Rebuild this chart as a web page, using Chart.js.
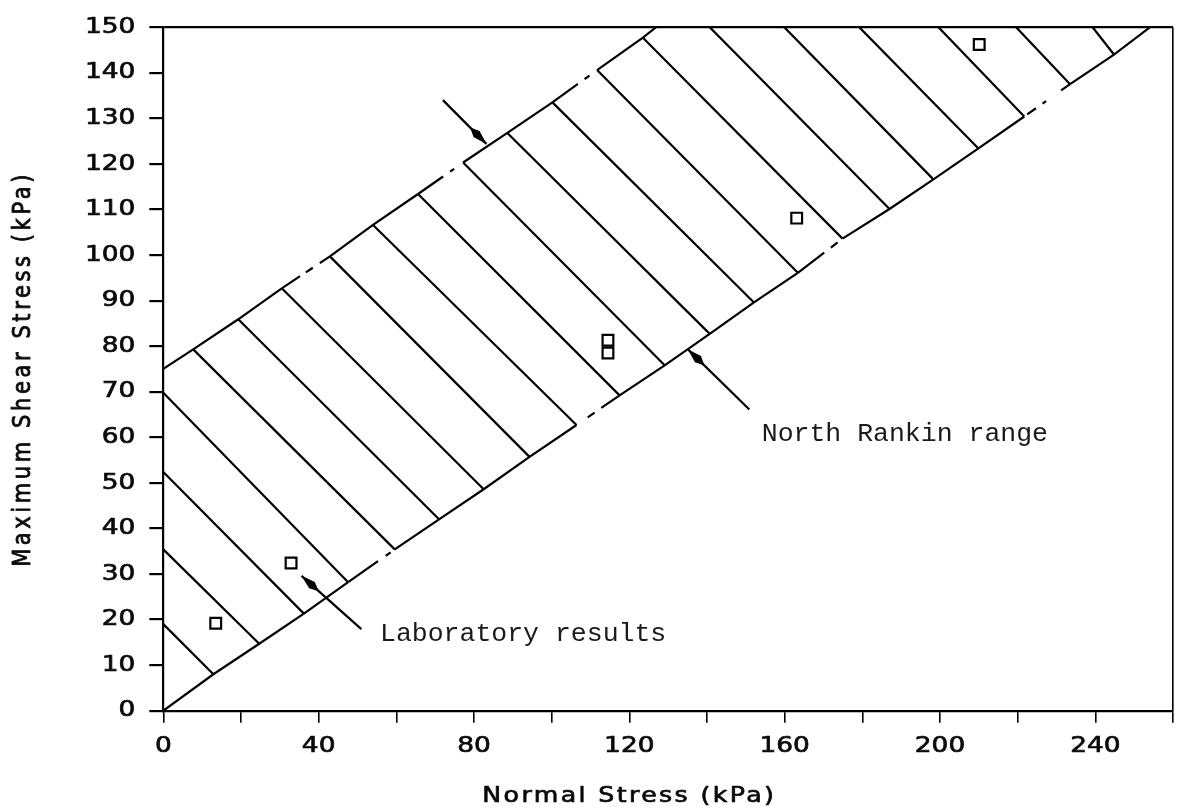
<!DOCTYPE html>
<html>
<head>
<meta charset="utf-8">
<title>Maximum shear stress vs normal stress</title>
<script src="https://cdn.jsdelivr.net/npm/chart.js@4.4.1/dist/chart.umd.min.js"></script>
<style>
  html, body { margin: 0; padding: 0; background: #ffffff; }
  #chart { display: block; }
</style>
</head>
<body>
<canvas id="chart" width="1183" height="811"></canvas>
<script>
// ---- data (kPa) ----------------------------------------------------------
// Hatch lines across the North Rankin band: lower end on the lower bound,
// upper end on the upper bound, the y axis or the top of the frame.
const hatchLowX = [12.9, 24.7, 36.2, 47.6, 59.6, 71.0, 82.5, 94.3, 106.4, 117.5, 129.1,
                   140.7, 152.1, 163.4, 174.9, 187.0, 198.3, 209.9, 221.7, 233.5, 244.8];
const hatchLowY = [8.0, 14.7, 21.3, 28.2, 35.4, 42.0, 48.6, 55.7, 62.7, 69.2, 75.8,
                   82.7, 89.6, 96.1, 103.6, 110.1, 116.6, 123.4, 130.4, 137.5, 144.0];
const hatchTopX = [0, 0, 0, 0, 7.7, 19.3, 30.5, 42.9, 54.0, 65.6, 77.2,
                   88.6, 100.2, 111.7, 123.5, 140.7, 159.9, 179.2, 199.6, 219.6, 239.3];
const hatchTopY = [19.0, 35.4, 52.4, 69.8, 79.3, 85.9, 92.7, 99.7, 106.6, 113.4, 120.3,
                   126.8, 133.5, 140.6, 147.7, 150, 150, 150, 150, 150, 150];

// Outer ends of the two band boundaries
const upperEdgeX = [0, 126.9];
const upperEdgeY = [75, 150];
const lowerEdgeX = [0, 254.1];
const lowerEdgeY = [0, 150];

// Laboratory results
const labX = [13.5, 32.9, 114.5, 114.5, 163.1, 210.1];
const labY = [19.2, 32.4, 81.3, 78.5, 108.1, 146.2];

// Annotation arrows (tail -> tip) and notes
const arrowTailX = [72.0, 150.9, 51.0];
const arrowTailY = [134.0, 66.1, 17.9];
const arrowTipX = [83.2, 135.1, 35.6];
const arrowTipY = [124.4, 79.3, 29.6];
const noteText = ['North Rankin range', 'Laboratory results'];
const noteX = [154.1, 55.8];
const noteY = [59.1, 15.3];

// Axis ticks
const xTickLabels = [0, 40, 80, 120, 160, 200, 240];
const xTitle = 'Normal Stress (kPa)';
const yTitle = 'Maximum Shear Stress (kPa)';

// ---- styling -------------------------------------------------------------
// Broken (dash-dot) stretches of the boundary lines, per segment index:
// alternating dash / gap lengths as fractions of the segment length.
const upperBreaks = { 3: [0.38, 0.12, 0.145, 0.145], 6: [0.556, 0.155, 0.09, 0.2], 9: [0.57, 0.15, 0.11, 0.17] };
const lowerBreaks = { 4: [0.64, 0.165, 0.107, 0.085], 9: [0, 0.26, 0.16, 0.155],
                      14: [0.59, 0.15, 0.15, 0.11], 19: [0, 0.065, 0.19, 0.145, 0.075, 0.33] };

function breakDash(breaks) {
  return (ctx) => {
    const b = breaks[ctx.p0DataIndex];
    if (!b) return undefined;
    const len = Math.hypot(ctx.p1.x - ctx.p0.x, ctx.p1.y - ctx.p0.y);
    return b.map(f => f * len).concat([len * 2]);
  };
}

const STRETCH = 1.2;       // wide lettering of the axis text
const INK = '#0a0a0a';
const AXIS_FONT = '"DejaVu Sans", sans-serif';
const LINE_W = 2.2;

// ---- datasets --------------------------------------------------------------
const hatchData = [];
hatchLowX.forEach((hx, i) => {
  hatchData.push({ x: hx, y: hatchLowY[i] }, { x: hatchTopX[i], y: hatchTopY[i] }, { x: null, y: null });
});

const upperData = [{ x: upperEdgeX[0], y: upperEdgeY[0] }];
hatchTopX.forEach((hx, i) => {
  if (hx > 0 && hatchTopY[i] < 150) upperData.push({ x: hx, y: hatchTopY[i] });
});
upperData.push({ x: upperEdgeX[1], y: upperEdgeY[1] });

const lowerData = [{ x: lowerEdgeX[0], y: lowerEdgeY[0] }]
  .concat(hatchLowX.map((hx, i) => ({ x: hx, y: hatchLowY[i] })))
  .concat([{ x: lowerEdgeX[1], y: lowerEdgeY[1] }]);

const labData = labX.map((v, i) => ({ x: v, y: labY[i] }));

// ---- plugins ---------------------------------------------------------------
// Widened, slightly heavier lettering for text drawn by the axes.
function wideFill(ctx, plain, text) {
  ctx.scale(STRETCH, 1);
  plain.call(ctx, text, 0, 0);
  ctx.lineWidth = 0.7;
  ctx.strokeStyle = ctx.fillStyle;
  ctx.lineJoin = 'round';
  ctx.strokeText(text, 0, 0);
}

const wideTicks = {
  id: 'wideTicks',
  beforeDraw(chart) {
    const ctx = chart.ctx;
    if (!ctx.__plainFill) {
      const plain = ctx.fillText;
      ctx.__plainFill = plain;
      ctx.fillText = function (text, x, y, maxWidth) {
        if (!this.__wide) {
          return maxWidth === undefined ? plain.call(this, text, x, y) : plain.call(this, text, x, y, maxWidth);
        }
        this.save();
        this.translate(x, y);
        wideFill(this, plain, text);
        this.restore();
      };
    }
    ctx.__wide = true;
  },
  beforeDatasetsDraw(chart) { chart.ctx.__wide = false; }
};

function drawArrow(ctx, x0, y0, x1, y1) {
  const dx = x1 - x0, dy = y1 - y0, len = Math.hypot(dx, dy);
  const ux = dx / len, uy = dy / len, nx = -uy, ny = ux;
  ctx.beginPath();
  ctx.moveTo(x0, y0);
  ctx.lineTo(x1, y1);
  ctx.stroke();
  const p = (d, w) => [x1 - ux * d + nx * w, y1 - uy * d + ny * w];
  ctx.beginPath();
  ctx.moveTo(...p(0.5, 0));
  ctx.lineTo(...p(5, 1.6));
  ctx.lineTo(...p(14, 4.3));
  ctx.lineTo(...p(23, 0));
  ctx.lineTo(...p(14, -4.3));
  ctx.lineTo(...p(5, -1.6));
  ctx.closePath();
  ctx.fill();
}

const notes = {
  id: 'notes',
  afterDraw(chart) {
    const { ctx, chartArea } = chart;
    const xs = chart.scales.x, ys = chart.scales.y;
    const plain = ctx.__plainFill || ctx.fillText;
    ctx.save();
    ctx.__wide = false;
    ctx.strokeStyle = '#000';
    ctx.fillStyle = '#000';
    ctx.lineWidth = LINE_W;
    ctx.lineCap = 'butt';
    arrowTailX.forEach((tx, i) => {
      drawArrow(ctx, xs.getPixelForValue(tx), ys.getPixelForValue(arrowTailY[i]),
                xs.getPixelForValue(arrowTipX[i]), ys.getPixelForValue(arrowTipY[i]));
    });

    ctx.font = '26.5px "Liberation Mono", monospace';
    ctx.fillStyle = '#1a1a1a';
    ctx.textAlign = 'left';
    ctx.textBaseline = 'alphabetic';
    noteText.forEach((t, i) => {
      ctx.fillText(t, xs.getPixelForValue(noteX[i]), ys.getPixelForValue(noteY[i]));
    });

    // axis titles
    ctx.fillStyle = INK;
    ctx.font = '21px ' + AXIS_FONT;
    ctx.textAlign = 'center';
    ctx.textBaseline = 'alphabetic';

    ctx.save();
    if ('letterSpacing' in ctx) ctx.letterSpacing = '2px';
    ctx.translate(xs.getPixelForValue(120), chartArea.bottom + 91.3);
    wideFill(ctx, plain, xTitle);
    ctx.restore();

    ctx.save();
    if ('letterSpacing' in ctx) ctx.letterSpacing = '3.6px';
    ctx.translate(30, (chartArea.top + chartArea.bottom) / 2);
    ctx.scale(STRETCH, 1);
    ctx.rotate(-Math.PI / 2);
    plain.call(ctx, yTitle, 0, 0);
    ctx.lineWidth = 0.7;
    ctx.strokeStyle = INK;
    ctx.strokeText(yTitle, 0, 0);
    ctx.restore();

    ctx.restore();
  }
};

// ---- chart -----------------------------------------------------------------
const clear = 'rgba(0,0,0,0)';

new Chart(document.getElementById('chart'), {
  type: 'scatter',
  data: {
    datasets: [
      {
        label: 'Laboratory results',
        data: labData,
        showLine: false,
        pointStyle: 'rect',
        pointRadius: 7.6,
        pointBorderWidth: 2.2,
        pointBorderColor: '#000',
        pointBackgroundColor: '#fff',
        order: 0
      },
      {
        label: 'Upper bound',
        data: upperData,
        showLine: true,
        pointRadius: 0,
        borderColor: '#000',
        borderWidth: LINE_W,
        borderCapStyle: 'butt',
        segment: { borderDash: breakDash(upperBreaks) },
        order: 1
      },
      {
        label: 'Lower bound',
        data: lowerData,
        showLine: true,
        pointRadius: 0,
        borderColor: '#000',
        borderWidth: LINE_W,
        borderCapStyle: 'butt',
        segment: { borderDash: breakDash(lowerBreaks) },
        order: 1
      },
      {
        label: 'Hatching',
        data: hatchData,
        showLine: true,
        spanGaps: false,
        pointRadius: 0,
        borderColor: '#000',
        borderWidth: LINE_W,
        order: 2
      }
    ]
  },
  options: {
    responsive: false,
    animation: false,
    devicePixelRatio: 1,
    events: [],
    layout: { padding: { top: 21.7, right: 9, bottom: 0, left: 0 } },
    plugins: {
      legend: { display: false },
      tooltip: { enabled: false }
    },
    scales: {
      x: {
        type: 'linear',
        min: 0,
        max: 260,
        afterFit: (s) => { s.height = 100.3; },
        ticks: {
          stepSize: 20,
          autoSkip: false,
          maxRotation: 0,
          padding: 10,
          color: INK,
          font: { family: AXIS_FONT, size: 22 },
          callback: (v) => (xTickLabels.includes(v) ? String(v) : '')
        },
        grid: {
          color: (c) => (c.tick && c.tick.value === 260 ? '#000' : clear),
          tickColor: '#000',
          tickLength: 12,
          lineWidth: 1.6,
          tickWidth: 1.6
        },
        border: { display: true, color: '#000', width: 2.2 }
      },
      y: {
        type: 'linear',
        min: 0,
        max: 150,
        afterFit: (s) => { s.width = 163.3; },
        ticks: {
          stepSize: 10,
          autoSkip: false,
          padding: 14,
          color: INK,
          font: { family: AXIS_FONT, size: 22 }
        },
        grid: {
          color: (c) => (c.tick && c.tick.value === 150 ? '#000' : clear),
          tickColor: '#000',
          tickLength: 14,
          lineWidth: 2.2,
          tickWidth: 2.2
        },
        border: { display: true, color: '#000', width: 2.2 }
      }
    }
  },
  plugins: [wideTicks, notes]
});
</script>
</body>
</html>
